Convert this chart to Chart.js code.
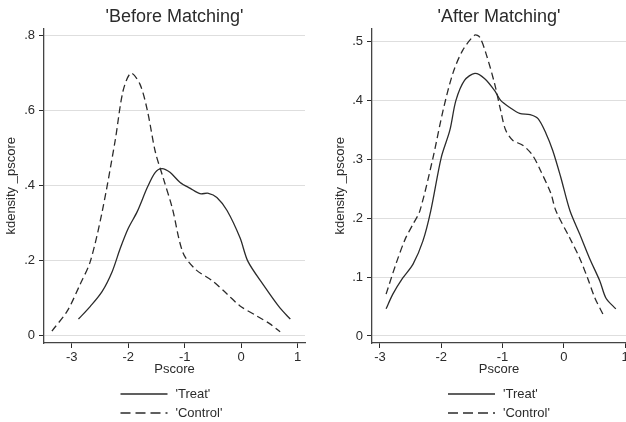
<!DOCTYPE html>
<html>
<head>
<meta charset="utf-8">
<script src="https://cdn.jsdelivr.net/npm/chart.js@4/dist/chart.umd.min.js"></script>
<style>
  html, body { margin: 0; padding: 0; background: #fff; overflow: hidden; }
  #wrap { position: relative; width: 626px; height: 422px; overflow: hidden; }
  .panel { position: absolute; top: 0; height: 422px; }
  #left { left: 0; width: 313px; }
  #right { left: 313px; width: 330px; }
</style>
</head>
<body>
<div id="wrap">
  <div class="panel" id="left"><canvas id="antes"></canvas></div>
  <div class="panel" id="right"><canvas id="despues"></canvas></div>
</div>
<script>
// Before matching
const beforeTreatX = [-2.88, -2.67, -2.46, -2.28, -2.14, -2.0, -1.84, -1.66, -1.52, -1.4, -1.26, -1.08, -0.9, -0.73, -0.58, -0.43, -0.25, -0.02, 0.12, 0.39, 0.69, 0.87];
const beforeTreatY = [0.043, 0.077, 0.117, 0.171, 0.232, 0.285, 0.33, 0.395, 0.435, 0.445, 0.435, 0.408, 0.392, 0.378, 0.379, 0.368, 0.333, 0.26, 0.197, 0.135, 0.072, 0.043];
const beforeControlX = [-3.35, -3.08, -2.85, -2.67, -2.46, -2.23, -2.09, -1.95, -1.79, -1.66, -1.52, -1.38, -1.22, -1.03, -0.81, -0.5, -0.25, -0.02, 0.28, 0.51, 0.69];
const beforeControlY = [0.011, 0.064, 0.136, 0.197, 0.33, 0.52, 0.653, 0.70, 0.67, 0.60, 0.49, 0.42, 0.34, 0.22, 0.176, 0.144, 0.11, 0.078, 0.051, 0.03, 0.009];

// After matching
const afterTreatX = [-2.9, -2.79, -2.63, -2.46, -2.3, -2.17, -2.0, -1.86, -1.76, -1.62, -1.45, -1.29, -1.13, -1.03, -0.88, -0.72, -0.55, -0.42, -0.29, -0.18, -0.05, 0.1, 0.26, 0.42, 0.59, 0.69, 0.85];
const afterTreatY = [0.046, 0.071, 0.098, 0.122, 0.161, 0.213, 0.303, 0.349, 0.4, 0.434, 0.446, 0.437, 0.417, 0.4, 0.388, 0.378, 0.376, 0.369, 0.344, 0.315, 0.27, 0.213, 0.173, 0.132, 0.093, 0.064, 0.046];
const afterControlX = [-2.9, -2.74, -2.59, -2.46, -2.35, -2.14, -1.97, -1.81, -1.65, -1.45, -1.37, -1.27, -1.13, -1.03, -0.95, -0.83, -0.67, -0.51, -0.38, -0.21, -0.13, 0.1, 0.26, 0.39, 0.51, 0.64];
const afterControlY = [0.071, 0.122, 0.164, 0.19, 0.212, 0.30, 0.383, 0.446, 0.485, 0.511, 0.507, 0.48, 0.429, 0.383, 0.35, 0.332, 0.324, 0.307, 0.281, 0.242, 0.213, 0.166, 0.132, 0.098, 0.064, 0.037];

const seriesLabels = ["'Treat'", "'Control'"];
const xTicks = [-3, -2, -1, 0, 1];

const FONT = '"Liberation Sans", Arial, sans-serif';
const INK = '#2b2b2b';

function puntos(xs, ys) {
  return xs.map((x, i) => ({ x: x, y: ys[i] }));
}

function etiquetaY(v) {
  const r = Math.round(v * 10) / 10;
  if (r === 0) return '0';
  return String(r).replace('0.', '.');
}

// legend drawn as two stacked rows under the plot (Stata style)
const leyenda = {
  id: 'leyenda',
  afterDraw(chart, args, opts) {
    const { ctx, chartArea } = chart;
    const cx = (chartArea.left + chartArea.right) / 2;
    const x0 = cx + opts.shift;
    ctx.save();
    ctx.font = '13px ' + FONT;
    ctx.textBaseline = 'middle';
    chart.data.datasets.forEach((ds, i) => {
      const y = opts.top + i * 19;
      ctx.strokeStyle = INK;
      ctx.lineWidth = 1.3;
      ctx.setLineDash(i === 1 ? [10, 5] : []);
      ctx.beginPath();
      ctx.moveTo(x0, y);
      ctx.lineTo(x0 + 47, y);
      ctx.stroke();
      ctx.setLineDash([]);
      ctx.fillStyle = INK;
      ctx.fillText(ds.label, x0 + 55, y);
    });
    ctx.restore();
  }
};

function crearGrafica(id, cfg) {
  const ctx = document.getElementById(id).getContext('2d');
  return new Chart(ctx, {
    type: 'line',
    data: {
      datasets: [{
        label: seriesLabels[0],
        data: puntos(cfg.treatX, cfg.treatY),
        borderColor: INK,
        borderWidth: 1.3,
        pointRadius: 0,
        tension: 0.3,
        fill: false
      }, {
        label: seriesLabels[1],
        data: puntos(cfg.controlX, cfg.controlY),
        borderColor: INK,
        borderWidth: 1.3,
        borderDash: [7, 4],
        pointRadius: 0,
        tension: 0.3,
        fill: false
      }]
    },
    options: {
      responsive: true,
      maintainAspectRatio: false,
      animation: false,
      layout: { padding: { left: 0, right: cfg.padRight, top: 0, bottom: 43 } },
      plugins: {
        legend: { display: false },
        tooltip: { enabled: false },
        title: {
          display: true,
          text: cfg.titulo,
          fullSize: false,
          color: INK,
          font: { family: FONT, size: 18, weight: 'normal' },
          padding: { top: 6, bottom: 1 }
        },
        leyenda: { top: 394, shift: cfg.legendShift }
      },
      scales: {
        x: {
          type: 'linear',
          min: cfg.xMin,
          max: cfg.xMax,
          afterBuildTicks: (s) => { s.ticks = xTicks.map(v => ({ value: v })); },
          afterFit: (s) => { s.height = 36; },
          ticks: {
            color: INK,
            font: { family: FONT, size: 13 },
            padding: 2,
            maxRotation: 0,
            callback: (v) => String(v)
          },
          grid: { drawOnChartArea: false, drawTicks: true, tickLength: 5, tickColor: INK },
          border: { display: true, color: '#444', width: 1.3 },
          title: {
            display: true,
            text: 'Pscore',
            color: INK,
            font: { family: FONT, size: 13 },
            padding: { top: 0, bottom: 2 }
          }
        },
        y: {
          type: 'linear',
          min: cfg.yMin,
          max: cfg.yMax,
          afterBuildTicks: (s) => { s.ticks = cfg.yTicks.map(v => ({ value: v })); },
          afterFit: (s) => { s.width = cfg.yWidth; },
          ticks: {
            color: INK,
            font: { family: FONT, size: 13 },
            padding: 4,
            callback: etiquetaY
          },
          grid: { color: '#dedede', lineWidth: 1, drawTicks: true, tickLength: 5, tickColor: INK },
          border: { display: true, color: '#444', width: 1.3 },
          title: {
            display: true,
            text: 'kdensity _pscore',
            color: INK,
            font: { family: FONT, size: 13 },
            padding: { top: cfg.yTitlePad, bottom: 0 }
          }
        }
      }
    },
    plugins: [leyenda]
  });
}

crearGrafica('antes', {
  titulo: "'Before Matching'",
  treatX: beforeTreatX, treatY: beforeTreatY,
  controlX: beforeControlX, controlY: beforeControlY,
  xMin: -3.49, xMax: 1.13,
  yMin: -0.021, yMax: 0.819,
  yTicks: [0, 0.2, 0.4, 0.6, 0.8],
  yWidth: 44, yTitlePad: 4,
  padRight: 8,
  legendShift: -54
});

crearGrafica('despues', {
  titulo: "'After Matching'",
  treatX: afterTreatX, treatY: afterTreatY,
  controlX: afterControlX, controlY: afterControlY,
  xMin: -3.13, xMax: 1.016,
  yMin: -0.012, yMax: 0.522,
  yTicks: [0, 0.1, 0.2, 0.3, 0.4, 0.5],
  yWidth: 59, yTitlePad: 20,
  padRight: 17,
  legendShift: -51
});
</script>
</body>
</html>
